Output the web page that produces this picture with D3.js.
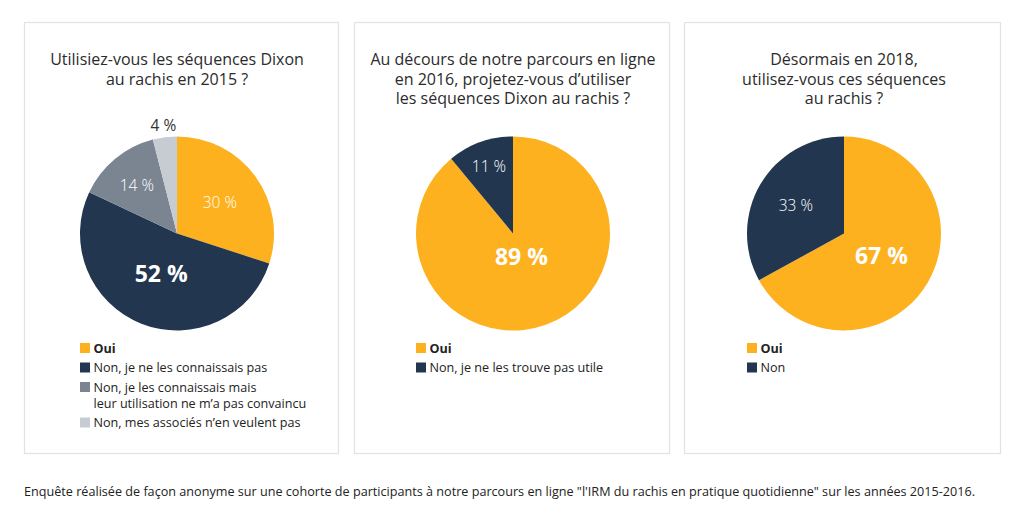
<!DOCTYPE html>
<html><head><meta charset="utf-8">
<script src="https://cdn.jsdelivr.net/npm/d3@7"></script>
<style>
html,body{margin:0;padding:0;background:#fff;}
svg{display:block;font-family:"Open Sans",sans-serif;}
</style></head>
<body><svg id="c" width="1024" height="531"></svg>
<script>
// ---- data ----
const titles1 = ["Utilisiez-vous les séquences Dixon", "au rachis en 2015 ?"];
const titles2 = ["Au décours de notre parcours en ligne", "en 2016, projetez-vous d’utiliser", "les séquences Dixon au rachis ?"];
const titles3 = ["Désormais en 2018,", "utilisez-vous ces séquences", "au rachis ?"];

const categories1 = ["Oui", "Non, je ne les connaissais pas", "Non, je les connaissais mais|leur utilisation ne m’a pas convaincu", "Non, mes associés n’en veulent pas"];
const values1 = [30, 52, 14, 4];
const categories2 = ["Oui", "Non, je ne les trouve pas utile"];
const values2 = [89, 11];
const categories3 = ["Oui", "Non"];
const values3 = [67, 33];

const footnote = "Enquête réalisée de façon anonyme sur une cohorte de participants à notre parcours en ligne \"l'IRM du rachis en pratique quotidienne\" sur les années 2015-2016.";

// ---- styles ----
const palette1 = ["#FDB11E", "#22364F", "#7A8591", "#C7CCD2"];
const palette2 = ["#FDB11E", "#22364F"];
const palette3 = ["#FDB11E", "#22364F"];

const panels = [
  {x0: 24, x1: 338, cx: 177, titles: titles1, cats: categories1, vals: values1, pal: palette1,
   lab: [{r: 53, size: 15.5, w: 300, fill: "#fff"}, {r: 43, size: 23, w: 700, fill: "#fff"}, {r: 63, size: 15.5, w: 300, fill: "#fff"}, {r: 109, size: 15.5, w: 400, fill: "#333"}]},
  {x0: 354, x1: 669, cx: 513, titles: titles2, cats: categories2, vals: values2, pal: palette2,
   lab: [{r: 25, size: 23, w: 700, fill: "#fff"}, {r: 71, size: 15.5, w: 300, fill: "#fff"}]},
  {x0: 684, x1: 1000, cx: 844, titles: titles3, cats: categories3, vals: values3, pal: palette3,
   lab: [{r: 43.5, size: 23, w: 700, fill: "#fff"}, {r: 56, size: 15.5, w: 300, fill: "#fff"}]}
];

const svg = d3.select("#c");
const cy = 233.5, R = 97;
const pie = d3.pie().sort(null).value(d => d);
const arc = d3.arc().innerRadius(0).outerRadius(R);

panels.forEach(p => {
  svg.append("rect").attr("x", p.x0 + 0.5).attr("y", 22.5)
    .attr("width", p.x1 - p.x0).attr("height", 431)
    .attr("fill", "#fff").attr("stroke", "#e2e2e2").attr("stroke-width", 1.2);

  const title = svg.append("text").attr("text-anchor", "middle").attr("font-size", 16).attr("fill", "#2b2b2b");
  p.titles.forEach((t, i) => {
    title.append("tspan").attr("x", p.cx).attr("y", 65 + i * 19.7).text(t);
  });

  const g = svg.append("g").attr("transform", `translate(${p.cx},${cy})`);
  const arcs = pie(p.vals);
  g.selectAll("path").data(arcs).join("path")
    .attr("d", arc).attr("fill", (d, i) => p.pal[i]);

  g.selectAll("text").data(arcs).join("text")
    .attr("transform", (d, i) => {
      const a = (d.startAngle + d.endAngle) / 2;
      const r = p.lab[i].r;
      return `translate(${Math.sin(a) * r},${-Math.cos(a) * r})`;
    })
    .attr("text-anchor", "middle").attr("dy", "0.36em")
    .attr("font-size", (d, i) => p.lab[i].size)
    .attr("font-weight", (d, i) => p.lab[i].w)
    .attr("fill", (d, i) => p.lab[i].fill)
    .text(d => d.data + " %");

  // legend
  const lx = p.cx - R;
  let ly = 348;
  p.cats.forEach((c, i) => {
    const lines = c.split("|");
    svg.append("rect").attr("x", lx).attr("y", ly - 5).attr("width", 10).attr("height", 10).attr("fill", p.pal[i]);
    const t = svg.append("text").attr("font-size", 12.6).attr("fill", "#222")
      .attr("font-weight", i === 0 ? 700 : 400);
    lines.forEach((ln, j) => {
      t.append("tspan").attr("x", lx + 13.5).attr("y", ly + 4.5 + j * 16).text(ln);
    });
    ly += 19.5 + (lines.length - 1) * 16;
  });
});

svg.append("text").attr("x", 24).attr("y", 496).attr("font-size", 12.5).attr("fill", "#222")
  .attr("textLength", 951).attr("lengthAdjust", "spacingAndGlyphs").text(footnote);
</script></body></html>
